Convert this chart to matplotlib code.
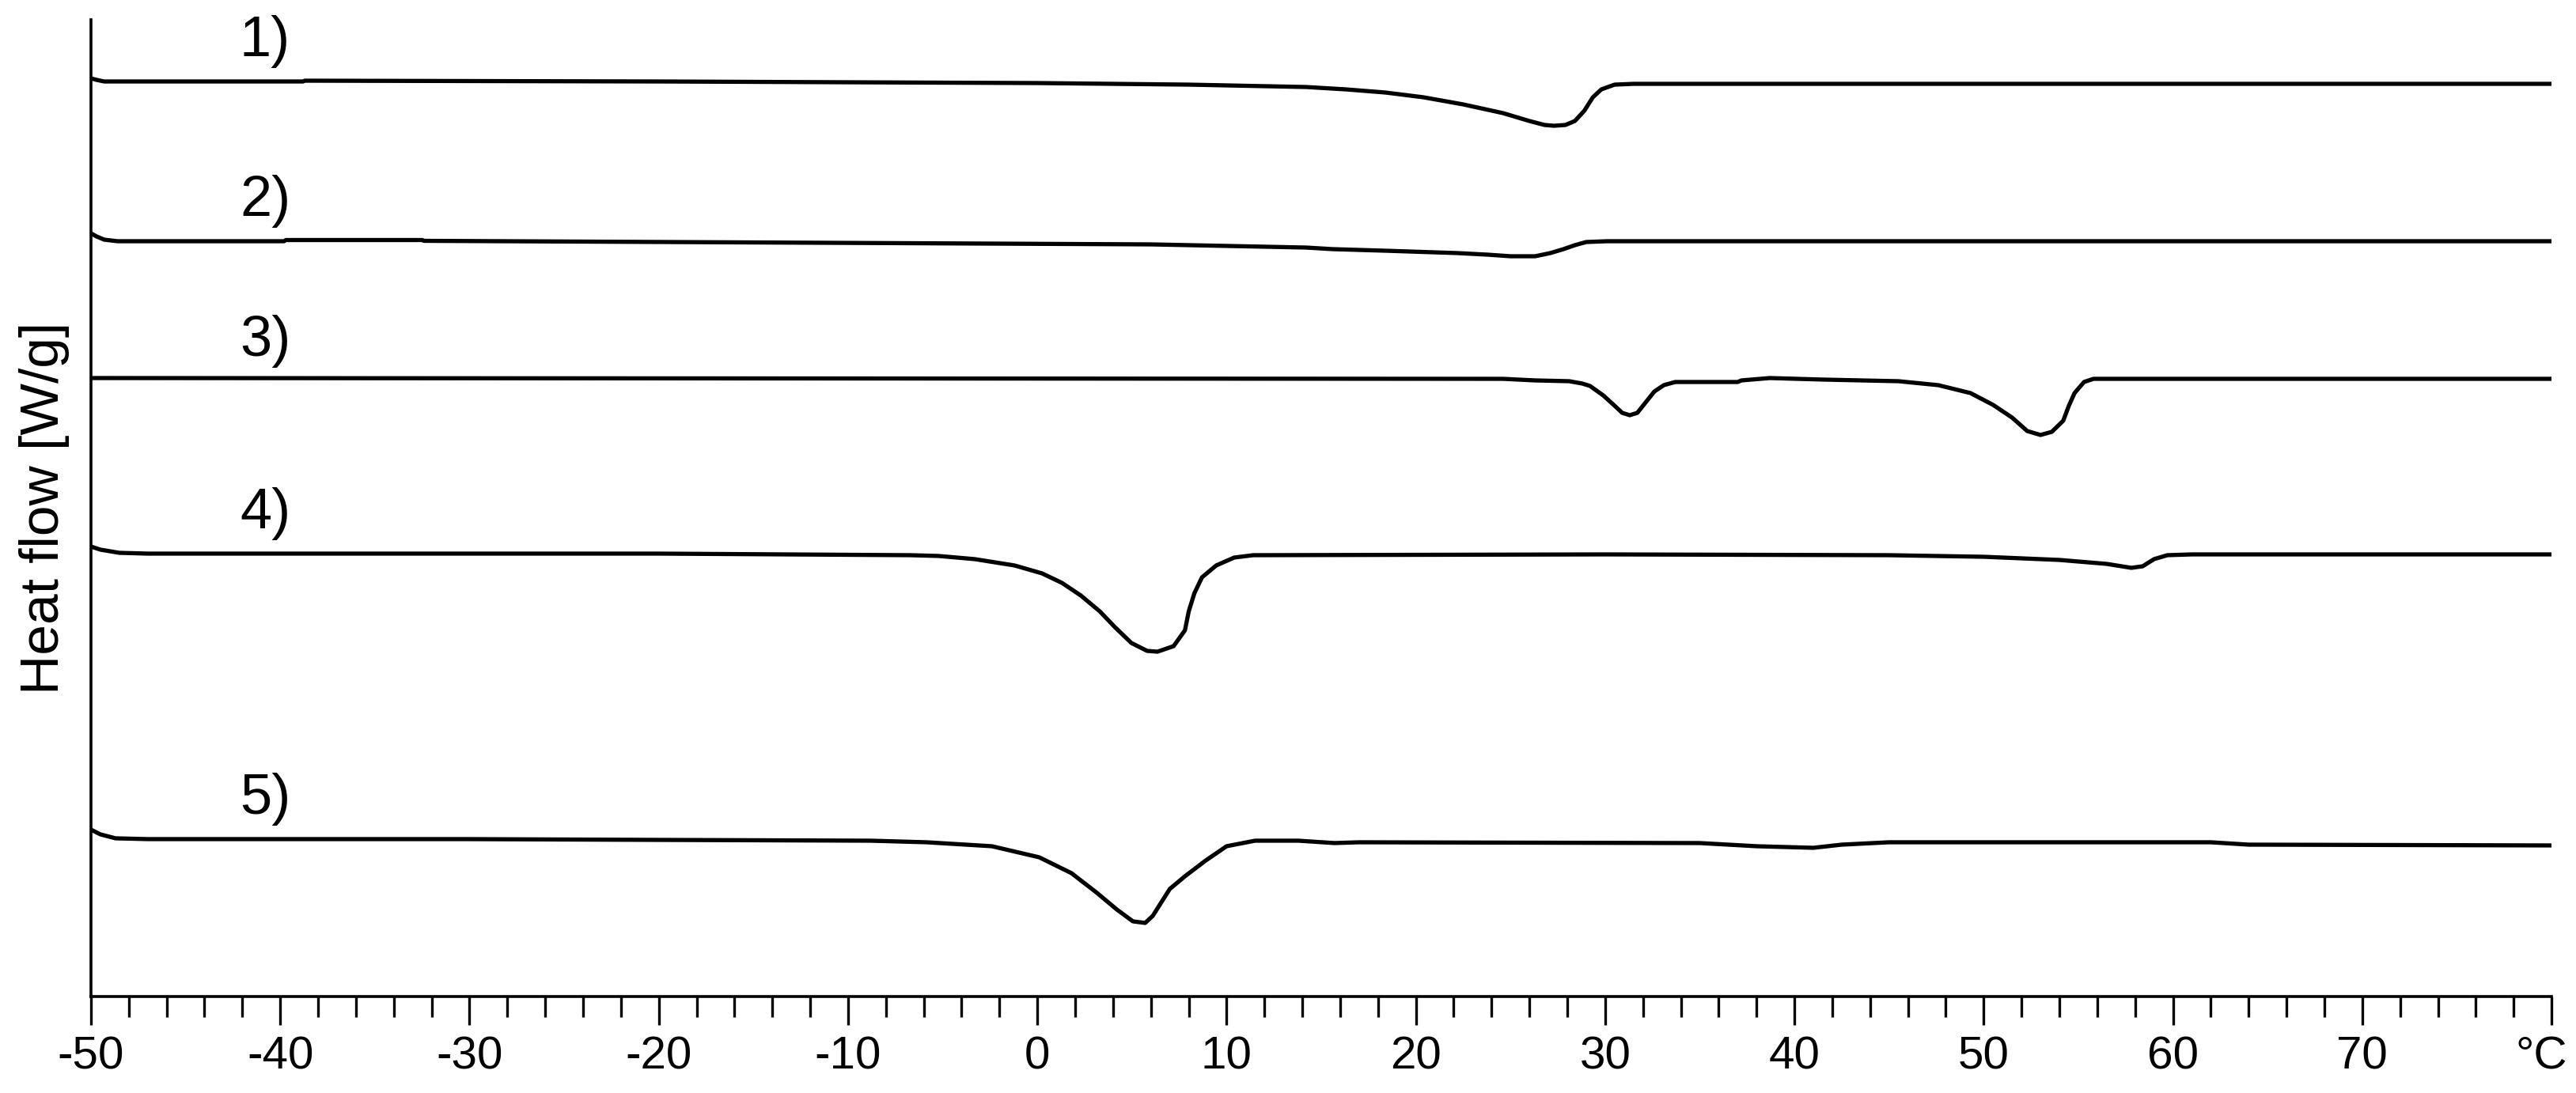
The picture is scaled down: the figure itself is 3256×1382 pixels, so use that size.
import matplotlib
matplotlib.use("Agg")
import matplotlib.pyplot as plt
from matplotlib.ticker import MultipleLocator, FixedLocator

# DSC curves, temperature in degC, heat flow in arbitrary (offset) units
t1 = [-50, -49.7, -49.3, -38.8, -38.7, -20, 0, 8, 12.1, 14.2, 16.3, 18.4, 20.4, 22.5,
      24.6, 26.0, 26.8, 27.3, 27.9, 28.4, 28.9, 29.35, 29.8, 30.5, 31.5, 80]
hf1 = [11.61, 11.59, 11.57, 11.57, 11.58, 11.57, 11.55, 11.53, 11.51, 11.50, 11.47, 11.43,
       11.37, 11.28, 11.17, 11.07, 11.02, 11.01, 11.02, 11.07, 11.20, 11.37, 11.47, 11.53,
       11.54, 11.54]

t2 = [-50, -49.7, -49.3, -48.6, -39.8, -39.7, -32.5, -32.4, -11, 6, 14.2, 15.6, 18.4,
      22.2, 23.8, 25.0, 26.3, 27.1, 27.8, 28.4, 29.0, 30.1, 80]
hf2 = [9.65, 9.61, 9.57, 9.55, 9.55, 9.565, 9.565, 9.555, 9.53, 9.51, 9.47, 9.45, 9.43,
       9.40, 9.38, 9.36, 9.36, 9.40, 9.45, 9.50, 9.54, 9.55, 9.55]

t3 = [-50, 24.6, 26.3, 28.1, 28.8, 29.2, 29.9, 30.5, 30.9, 31.3, 31.7, 32.1, 32.6, 33.1,
      33.7, 37.0, 37.2, 38.7, 41.6, 45.5, 47.6, 49.3, 50.5, 51.5, 52.3, 53.0, 53.6, 54.2,
      54.5, 54.8, 55.3, 55.8, 80]
hf3 = [7.82, 7.81, 7.79, 7.78, 7.75, 7.72, 7.60, 7.47, 7.38, 7.35, 7.38, 7.50, 7.65, 7.73,
       7.77, 7.77, 7.79, 7.82, 7.80, 7.78, 7.73, 7.63, 7.48, 7.32, 7.15, 7.10, 7.14, 7.28,
       7.47, 7.63, 7.77, 7.81, 7.81]

t4 = [-50, -49.5, -48.5, -47, -20, -6.7, -5.2, -3.3, -1.2, 0.25, 1.3, 2.3, 3.3, 4.1, 4.97,
      5.8, 6.35, 7.2, 7.8, 8.0, 8.3, 8.7, 9.45, 10.4, 11.4, 30, 45, 50, 54, 56.5, 57.8,
      58.4, 59.0, 59.7, 61, 80]
hf4 = [5.69, 5.65, 5.61, 5.60, 5.60, 5.58, 5.57, 5.53, 5.45, 5.35, 5.23, 5.07, 4.87, 4.67,
       4.47, 4.37, 4.36, 4.43, 4.63, 4.87, 5.10, 5.30, 5.45, 5.55, 5.58, 5.59, 5.58, 5.56,
       5.52, 5.47, 5.42, 5.44, 5.53, 5.58, 5.59, 5.59]

t5 = [-50, -49.5, -48.7, -47, -30, -20, -8.8, -5.85, -2.4, 0.1, 1.8, 3.1, 4.2, 5.05, 5.7,
      6.1, 7.0, 7.8, 8.9, 10.0, 11.5, 13.8, 15.7, 17, 35, 38, 41, 42.5, 45, 62, 64, 80]
hf5 = [2.11, 2.05, 2.00, 1.99, 1.99, 1.98, 1.97, 1.95, 1.90, 1.76, 1.56, 1.32, 1.10, 0.95,
       0.93, 1.02, 1.36, 1.52, 1.72, 1.90, 1.97, 1.97, 1.94, 1.95, 1.94, 1.90, 1.88, 1.92,
       1.95, 1.95, 1.92, 1.91]

curves = [(t1, hf1), (t2, hf2), (t3, hf3), (t4, hf4), (t5, hf5)]
curve_labels = ["1)", "2)", "3)", "4)", "5)"]

x_ticks = [-50, -40, -30, -20, -10, 0, 10, 20, 30, 40, 50, 60, 70, 80]
x_ticklabels = ["-50", "-40", "-30", "-20", "-10", "0", "10", "20", "30", "40", "50",
                "60", "70", ""]
unit_label = "°C"

plt.rcParams["font.family"] = ["Liberation Sans", "DejaVu Sans"]

fig = plt.figure(figsize=(32.56, 13.82), dpi=100)
ax = fig.add_axes([0.0353, 0.0883, 0.9552, 0.8936])

for (t, hf), lab in zip(curves, curve_labels):
    ax.plot(t, hf, color="black", lw=3.8, solid_joinstyle="round", solid_capstyle="round")
    ax.text(-40.8, hf[3] + 0.32, lab, ha="center", va="baseline", fontsize=52)

ax.set_xlim(-50, 80)
ax.set_ylim(0, 12.35)

ax.spines["top"].set_visible(False)
ax.spines["right"].set_visible(False)
ax.spines["left"].set_linewidth(2.6)
ax.spines["bottom"].set_linewidth(2.6)

ax.xaxis.set_major_locator(FixedLocator(x_ticks))
ax.set_xticklabels(x_ticklabels)
ax.xaxis.set_minor_locator(MultipleLocator(2))
ax.tick_params(axis="x", which="major", length=26, width=2.4, labelsize=42, pad=10)
ax.tick_params(axis="x", which="minor", length=19, width=2.4)
ax.set_yticks([])

# unit label at the last major tick, nudged left so it stays on the canvas
ax.annotate(unit_label, xy=(x_ticks[-1], 0), xycoords=("data", "axes fraction"),
            xytext=(-9, -36), textcoords="offset points",
            ha="center", va="top", fontsize=42)

ax.set_ylabel("Heat flow [W/g]", fontsize=50)
ax.yaxis.set_label_coords(-0.0087, 0.5)

fig.savefig("out.png", dpi=100)
